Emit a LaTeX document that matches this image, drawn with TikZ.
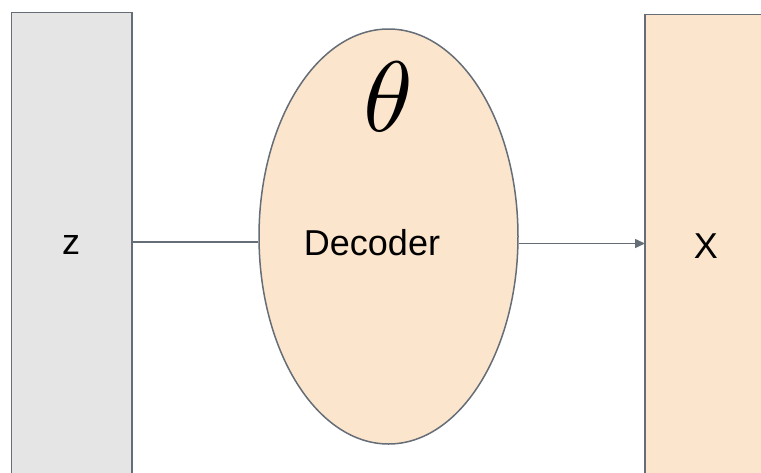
\documentclass[tikz,border=0pt]{standalone}
\usepackage{fontspec}
\setmainfont{Liberation Sans}
\usetikzlibrary{shapes.geometric,arrows.meta}
\definecolor{edge}{HTML}{656D76}
\definecolor{greyfill}{HTML}{E5E5E5}
\definecolor{peach}{HTML}{FCE5CD}
\begin{document}
\begin{tikzpicture}[x=1pt,y=-1pt,
  block/.style={draw=edge,line width=1.5pt},
  label/.style={font=\fontsize{36}{36}\selectfont,inner sep=0pt},
  link/.style={draw=edge,line width=1.5pt}]
\useasboundingbox (0,0) rectangle (761,472);
\clip (0,0) rectangle (761,472);
% input column z
\draw[block,fill=greyfill] (11.5,12.5) rectangle (132,490);
\node[label] (z) at (71,245) {z};
% output column X
\draw[block,fill=peach] (645,14.5) rectangle (790,490);
\node[label] (x) at (706,246) {X};
% decoder ellipse with parameters theta
\node[ellipse,draw=edge,line width=1.5pt,fill=peach,minimum width=259pt,minimum height=415pt,inner sep=0pt] (dec) at (388.5,236.5) {};
\node[label] (dlabel) at (372,243) {Decoder};
\node[inner sep=0pt,scale=10] (theta) at (388,97) {$\theta$};
% connectors
\coordinate (zout) at (132,242);
\coordinate (xin) at (645,243.5);
\draw[link] (zout) -- (zout -| dec.west);
\draw[link,-{Triangle[length=10pt,width=9pt]}] (dec.east |- xin) -- (xin);
\end{tikzpicture}
\end{document}
